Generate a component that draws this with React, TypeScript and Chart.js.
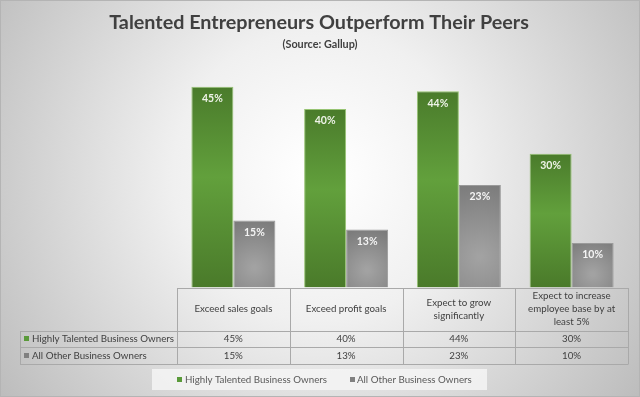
import React, { useEffect, useRef } from "react";
import { Chart, registerables } from "chart.js";

Chart.register(...registerables);

const TITLE = "Talented Entrepreneurs Outperform Their Peers";
const SUBTITLE = "(Source: Gallup)";
const categories: string[][] = [
  ["Exceed sales goals"],
  ["Exceed profit goals"],
  ["Expect to grow", "significantly"],
  ["Expect to increase", "employee base by at", "least 5%"],
];
const seriesNames = ["Highly Talented Business Owners", "All Other Business Owners"];
const talented = [45, 40, 44, 30];
const others = [15, 13, 23, 10];
const Y_MAX = 50;

const FONT = "Lato, 'Open Sans', sans-serif";
const TEXT = "#404040";
const GRID = "#a9a9a9";
const GREEN = "#5a9a3a";
const GRAY = "#808080";
const CAT_PCT = 0.745;

function fitFont(ctx: CanvasRenderingContext2D, text: string, weight: string, target: number) {
  ctx.font = `${weight} 100px ${FONT}`;
  const w = ctx.measureText(text).width;
  const size = (100 * target) / w;
  ctx.font = `${weight} ${size.toFixed(2)}px ${FONT}`;
  return size;
}

const bgPlugin = {
  id: "bgPlugin",
  beforeDraw(chart: any) {
    const { ctx, width, height } = chart;
    ctx.save();
    const g = ctx.createRadialGradient(320, 175, 10, 320, 175, 400);
    g.addColorStop(0, "#ffffff");
    g.addColorStop(0.35, "#f0f0f0");
    g.addColorStop(1, "#bababa");
    ctx.fillStyle = g;
    ctx.fillRect(0, 0, width, height);
    ctx.strokeStyle = "#b4b4b4";
    ctx.lineWidth = 1;
    ctx.strokeRect(0.5, 0.5, width - 1, height - 1);
    ctx.restore();
  },
};

const decorPlugin = {
  id: "decorPlugin",
  afterDatasetsDraw(chart: any) {
    const { ctx, chartArea: a } = chart;
    const xs = chart.scales.x;
    const colW = a.width / categories.length;
    ctx.save();

    // title
    ctx.fillStyle = TEXT;
    ctx.textAlign = "center";
    ctx.textBaseline = "middle";
    fitFont(ctx, TITLE, "bold", 420);
    ctx.fillText(TITLE, 319, 23);
    fitFont(ctx, SUBTITLE, "bold", 75);
    ctx.fillText(SUBTITLE, 320, 44);

    // data labels
    ctx.font = `bold 10.5px ${FONT}`;
    const series = [talented, others];
    series.forEach((vals, di) => {
      const meta = chart.getDatasetMeta(di);
      meta.data.forEach((el: any, i: number) => {
        ctx.fillStyle = di === 0 ? "#eef3e8" : "#f4f4f4";
        ctx.fillText(`${vals[i]}%`, el.x, el.y + 12);
      });
    });

    // table
    const rowTop = a.bottom;
    const hdrBottom = 330.5;
    const r1 = 347.2;
    const r2 = 363.5;
    const leftX = 20;
    ctx.strokeStyle = GRID;
    ctx.lineWidth = 1;
    ctx.beginPath();
    ctx.moveTo(a.left, Math.round(rowTop) + 0.5);
    ctx.lineTo(a.right, Math.round(rowTop) + 0.5);
    [hdrBottom, r1, r2].forEach((y) => {
      ctx.moveTo(leftX, Math.round(y) + 0.5);
      ctx.lineTo(a.right, Math.round(y) + 0.5);
    });
    for (let i = 0; i <= categories.length; i++) {
      const x = Math.round(a.left + i * colW) + 0.5;
      ctx.moveTo(x, Math.round(rowTop));
      ctx.lineTo(x, Math.round(r2) + 0.5);
    }
    ctx.moveTo(leftX + 0.5, Math.round(hdrBottom));
    ctx.lineTo(leftX + 0.5, Math.round(r2) + 0.5);
    ctx.stroke();

    const tsize = fitFont(ctx, seriesNames[0], "normal", 142);
    const tfont = `normal ${tsize.toFixed(2)}px ${FONT}`;
    ctx.fillStyle = TEXT;
    ctx.font = tfont;
    ctx.textAlign = "center";
    const hdrMid = (rowTop + hdrBottom) / 2;
    const lh = 13;
    categories.forEach((lines, i) => {
      const cx = xs.getPixelForValue(i);
      const y0 = hdrMid - ((lines.length - 1) * lh) / 2;
      lines.forEach((ln, k) => ctx.fillText(ln, cx, y0 + k * lh));
      ctx.fillText(`${talented[i]}%`, cx, (hdrBottom + r1) / 2 + 0.5);
      ctx.fillText(`${others[i]}%`, cx, (r1 + r2) / 2 + 0.5);
    });
    ctx.textAlign = "left";
    const rows = [(hdrBottom + r1) / 2 + 0.5, (r1 + r2) / 2 + 0.5];
    rows.forEach((y, k) => {
      ctx.fillStyle = k === 0 ? GREEN : GRAY;
      ctx.fillRect(24, Math.round(y) - 3, 5, 5);
      ctx.fillStyle = TEXT;
      ctx.fillText(seriesNames[k], 32, y);
    });

    // legend
    ctx.fillStyle = "rgba(245,245,245,0.85)";
    ctx.fillRect(152, 369, 335, 21);
    const ly = 379.5;
    ctx.fillStyle = GREEN;
    ctx.fillRect(177, Math.round(ly) - 3, 5, 5);
    ctx.fillStyle = GRAY;
    ctx.fillRect(350, Math.round(ly) - 3, 5, 5);
    ctx.fillStyle = "#595959";
    ctx.font = tfont;
    ctx.fillText(seriesNames[0], 185, ly);
    ctx.fillText(seriesNames[1], 357, ly);

    ctx.restore();
  },
};

function barBg(di: number) {
  return (c: any) => {
    const chart = c.chart;
    const a = chart.chartArea;
    if (!a || c.type !== "data" || !chart.scales.y) return di === 0 ? GREEN : GRAY;
    const ys = chart.scales.y;
    const xs = chart.scales.x;
    const top = ys.getPixelForValue(c.raw);
    const bot = ys.getPixelForValue(0);
    const ctx = chart.ctx;
    if (di === 0) {
      const g = ctx.createLinearGradient(0, top, 0, bot);
      g.addColorStop(0, "#4a7b2b");
      g.addColorStop(0.45, "#62a03c");
      g.addColorStop(1, "#4a7a2a");
      return g;
    }
    const colW = a.width / categories.length;
    const bw = (colW * CAT_PCT) / 2;
    const cx = xs.getPixelForValue(c.dataIndex) + bw / 2;
    const cy = top + (bot - top) * 0.7;
    const g = ctx.createRadialGradient(cx, cy, 2, cx, cy, Math.max(bw, (bot - top) * 0.8));
    g.addColorStop(0, "#a2a2a2");
    g.addColorStop(1, "#777777");
    return g;
  };
}

export default function App() {
  const ref = useRef<HTMLCanvasElement | null>(null);
  useEffect(() => {
    if (!ref.current) return;
    const chart = new Chart(ref.current, {
      type: "bar",
      data: {
        labels: categories.map((c) => c.join(" ")),
        datasets: [
          {
            label: seriesNames[0],
            data: talented,
            backgroundColor: barBg(0),
            borderColor: "rgba(140,190,100,0.9)",
            borderWidth: 1,
            barPercentage: 1,
            categoryPercentage: CAT_PCT,
          },
          {
            label: seriesNames[1],
            data: others,
            backgroundColor: barBg(1),
            borderColor: "#9a9a9a",
            borderWidth: 1,
            barPercentage: 1,
            categoryPercentage: CAT_PCT,
          },
        ],
      },
      options: {
        responsive: false,
        animation: false,
        layout: { padding: { left: 177, right: 12, top: 64.5, bottom: 109.5 } },
        scales: {
          x: { display: false },
          y: { display: false, min: 0, max: Y_MAX },
        },
        plugins: {
          legend: { display: false },
          title: { display: false },
          tooltip: { enabled: false },
        },
      },
      plugins: [bgPlugin, decorPlugin],
    });
    return () => chart.destroy();
  }, []);
  return (
    <div style={{ position: "absolute", left: 0, top: 0, width: 640, height: 397 }}>
      <canvas ref={ref} width={640} height={397} style={{ display: "block" }} />
    </div>
  );
}
